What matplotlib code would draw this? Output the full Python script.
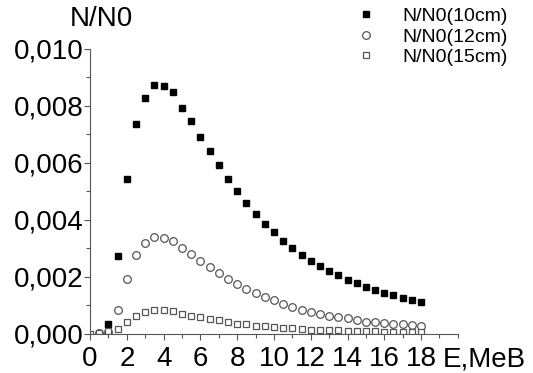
import matplotlib
matplotlib.use("Agg")
import matplotlib.pyplot as plt
from matplotlib.ticker import MultipleLocator, FuncFormatter
from matplotlib.transforms import blended_transform_factory, offset_copy

plt.rcParams['font.family'] = ['Liberation Sans', 'DejaVu Sans']

# energy, MeV (step 0.5)
e10 = [1.0, 1.5, 2.0, 2.5, 3.0, 3.5, 4.0, 4.5, 5.0, 5.5, 6.0, 6.5, 7.0, 7.5, 8.0,
       8.5, 9.0, 9.5, 10.0, 10.5, 11.0, 11.5, 12.0, 12.5, 13.0, 13.5, 14.0, 14.5,
       15.0, 15.5, 16.0, 16.5, 17.0, 17.5, 18.0]
n10 = [0.34, 2.74, 5.44, 7.36, 8.29, 8.73, 8.70, 8.48, 7.94, 7.46, 6.92, 6.43, 5.94,
       5.45, 5.02, 4.60, 4.22, 3.87, 3.57, 3.27, 3.01, 2.78, 2.57, 2.37, 2.20, 2.05,
       1.89, 1.77, 1.65, 1.54, 1.44, 1.35, 1.26, 1.19, 1.11]

e12 = [0.5, 1.0, 1.5, 2.0, 2.5, 3.0, 3.5, 4.0, 4.5, 5.0, 5.5, 6.0, 6.5, 7.0, 7.5,
       8.0, 8.5, 9.0, 9.5, 10.0, 10.5, 11.0, 11.5, 12.0, 12.5, 13.0, 13.5, 14.0,
       14.5, 15.0, 15.5, 16.0, 16.5, 17.0, 17.5, 18.0]
n12 = [0.02, 0.08, 0.85, 1.92, 2.75, 3.18, 3.39, 3.38, 3.26, 3.02, 2.81, 2.57, 2.35,
       2.14, 1.93, 1.75, 1.58, 1.43, 1.29, 1.17, 1.05, 0.95, 0.85, 0.77, 0.70, 0.64,
       0.58, 0.54, 0.49, 0.43, 0.40, 0.37, 0.35, 0.33, 0.32, 0.29]

e15 = [0.0, 0.5, 1.0, 1.5, 2.0, 2.5, 3.0, 3.5, 4.0, 4.5, 5.0, 5.5, 6.0, 6.5, 7.0,
       7.5, 8.0, 8.5, 9.0, 9.5, 10.0, 10.5, 11.0, 11.5, 12.0, 12.5, 13.0, 13.5,
       14.0, 14.5, 15.0, 15.5, 16.0, 16.5, 17.0, 17.5, 18.0]
n15 = [0.01, 0.02, 0.10, 0.17, 0.41, 0.63, 0.76, 0.83, 0.83, 0.80, 0.71, 0.64, 0.58,
       0.53, 0.47, 0.41, 0.36, 0.33, 0.29, 0.26, 0.23, 0.21, 0.19, 0.17, 0.15, 0.14,
       0.13, 0.12, 0.11, 0.10, 0.09, 0.09, 0.08, 0.08, 0.08, 0.07, 0.07]

labels = ["N/N0(10cm)", "N/N0(12cm)", "N/N0(15cm)"]

fig = plt.figure(figsize=(5.33, 3.73), dpi=100)
ax = fig.add_axes([0.169, 0.105, 0.69, 0.764])

ax.plot(e10, [v / 1000 for v in n10], 's', color='black', ms=4.8, label=labels[0])
ax.plot(e12, [v / 1000 for v in n12], 'o', mfc='white', mec='#555555', mew=0.9, ms=5.5, label=labels[1])
ax.plot(e15, [v / 1000 for v in n15], 's', mfc='white', mec='#555555', mew=0.9, ms=4.8, label=labels[2])

ax.set_xlim(0, 20)
ax.set_ylim(0, 0.010)
ax.spines['top'].set_visible(False)
ax.spines['right'].set_visible(False)
ax.spines['left'].set_color('#555555')
ax.spines['bottom'].set_color('#555555')

ax.set_xticks(range(0, 20, 2))
ax.xaxis.set_minor_locator(MultipleLocator(1))
ax.yaxis.set_major_locator(MultipleLocator(0.002))
ax.yaxis.set_minor_locator(MultipleLocator(0.001))
ax.yaxis.set_major_formatter(FuncFormatter(lambda v, p: f"{v:.3f}".replace('.', ',')))
ax.tick_params(which='major', length=4, width=0.8, color='#555555', labelsize=20, pad=1)
ax.tick_params(which='minor', length=3, width=0.8, color='#555555')
ax.tick_params(axis='x', pad=5)

fig.text(0.131, 0.95, "N/N0", fontsize=20, ha='left', va='center')

# axis title sits where the "20" tick label would be
trans = offset_copy(blended_transform_factory(ax.transData, ax.transAxes),
                    fig=fig, x=0, y=-9, units='points')
ax.text(19.2, 0, "E,MeB", transform=trans, fontsize=20, ha='left', va='top')

fig.legend(loc='upper left', bbox_to_anchor=(0.668, 0.98),
           frameon=False, fontsize=14, handletextpad=1.37, labelspacing=0.15,
           handlelength=1.0, borderpad=0, borderaxespad=0)

fig.savefig("out.png", dpi=100)
